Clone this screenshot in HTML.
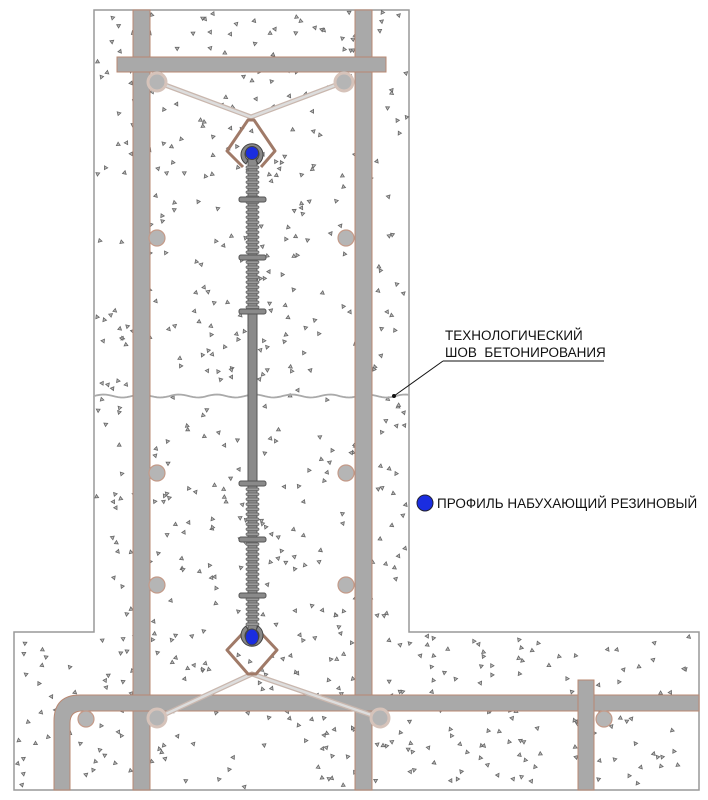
<!DOCTYPE html>
<html><head><meta charset="utf-8"><style>
html,body{margin:0;padding:0;background:#fff;width:708px;height:800px;overflow:hidden}
svg{display:block}
text{font-family:"Liberation Sans",sans-serif;fill:#111}
</style></head><body>
<svg id="s" width="708" height="800" viewBox="0 0 708 800">
<path d="M94 10 H409 V632 H699 V790 H14 V632 H94 Z" fill="#fff" stroke="#999" stroke-width="1.5"/>
<g id="dots" fill="#bbb" stroke="#666" stroke-width="0.8"></g>
<path id="wave" fill="none" stroke="#aaa" stroke-width="1.8"/>
<rect x="133" y="10" width="17" height="780" fill="#a9a9a9" stroke="#b98872" stroke-width="1"/>
<rect x="355" y="10" width="17" height="780" fill="#a9a9a9" stroke="#b98872" stroke-width="1"/>
<rect x="117" y="57" width="269" height="15" fill="#a9a9a9" stroke="#b98872" stroke-width="1"/>
<path d="M699 695 H80 Q54 695 54 721 V790 H70 V723 Q70 711 82 711 H699 Z" fill="#a9a9a9" stroke="#b98872" stroke-width="1"/>
<rect x="578" y="680" width="16" height="110" fill="#a9a9a9" stroke="#b98872" stroke-width="1"/>
<g fill="#b5b5b5" stroke="#c49a88" stroke-width="1.2">
<circle cx="157" cy="238" r="8"/><circle cx="346" cy="238" r="8"/>
<circle cx="157" cy="473" r="8"/><circle cx="346" cy="473" r="8"/>
<circle cx="157" cy="585" r="8"/><circle cx="346" cy="585" r="8"/>
<circle cx="86" cy="719" r="8"/><circle cx="604" cy="719" r="8"/>
</g>
<g fill="none" stroke="#c9b7ae" stroke-width="5" stroke-linecap="round">
<path d="M157 82 L251 117 L344 82"/>
<path d="M157 718 L252 674 L380 718"/>
</g>
<g fill="none" stroke="#ddd" stroke-width="2.5">
<path d="M157 82 L251 117 L344 82"/>
<path d="M157 718 L252 674 L380 718"/>
</g>
<g fill="#b5b5b5" stroke="#d6c3ba" stroke-width="3">
<circle cx="157" cy="82" r="9"/><circle cx="344" cy="82" r="9"/>
<circle cx="157" cy="718" r="9"/><circle cx="380" cy="718" r="9"/>
</g>
<g fill="none" stroke="#a07a68" stroke-width="3" stroke-linejoin="round">
<path d="M243 167 L227 151 L248 120 L254 120 L275 151 L261 167"/>
<path d="M243 633 L227 650 L248 674 L256 674 L277 650 L261 633"/>
</g>
<rect x="248" y="158" width="9" height="486" fill="#8a8a8a" stroke="#555" stroke-width="1"/>
<g id="ribs" fill="#9a9a9a" stroke="#666" stroke-width="0.7"></g>
<g fill="#8a8a8a" stroke="#555" stroke-width="1">
<rect x="239" y="197" width="27" height="5" rx="2"/>
<rect x="239" y="255" width="27" height="5" rx="2"/>
<rect x="239" y="309" width="27" height="5" rx="2"/>
<rect x="239" y="481" width="27" height="5" rx="2"/>
<rect x="239" y="537" width="27" height="5" rx="2"/>
<rect x="239" y="593" width="27" height="5" rx="2"/>
</g>
<g stroke="#444" stroke-width="1">
<path d="M246 164 A11 11 0 1 1 258 164 L256 160 A7 7 0 1 0 248 160 Z" fill="#888"/>
<circle cx="252" cy="153" r="6.5" fill="#1a2de0"/>
<path d="M246 626 A11 11 0 1 0 258 626 L256 630 A7 7 0 1 1 248 630 Z" fill="#888"/>
<ellipse cx="252" cy="637" rx="6.5" ry="8" fill="#1a2de0"/>
</g>
<line x1="394" y1="396" x2="443" y2="361" stroke="#111" stroke-width="1"/>
<line x1="443" y1="361" x2="604" y2="361" stroke="#111" stroke-width="1"/>
<circle cx="394" cy="396" r="2" fill="#111"/>
<text x="445" y="340" font-size="13.5">ТЕХНОЛОГИЧЕСКИЙ</text>
<text x="445" y="357" font-size="13.5" xml:space="preserve">ШОВ  БЕТОНИРОВАНИЯ</text>
<circle cx="425" cy="503" r="8" fill="#1a2de0" stroke="#223" stroke-width="1"/>
<text x="437" y="508" font-size="13.5">ПРОФИЛЬ НАБУХАЮЩИЙ РЕЗИНОВЫЙ</text>
</svg>
<script>
var NS="http://www.w3.org/2000/svg";
var seed=7;function r(){seed=(seed*16807)%2147483647;return seed/2147483647;}
var g=document.getElementById("dots");
function inside(x,y){return (x>96&&x<407&&y>12&&y<788)||(x>16&&x<697&&y>634&&y<788);}
for(var i=0;i<1400;i++){var x=14+r()*685,y=10+r()*780;if(!inside(x,y))continue;
var a=r()*6.28,s=2.2;var p=document.createElementNS(NS,"path");var d="M";
for(var k=0;k<3;k++){var ang=a+k*2.094;d+=(x+s*Math.cos(ang)).toFixed(1)+" "+(y+s*Math.sin(ang)).toFixed(1)+(k<2?" L":" Z");}
p.setAttribute("d",d);g.appendChild(p);}
var w="M94 396";for(var x=94;x<=409;x+=3){w+=" L"+x+" "+(396+1.5*Math.sin(x/6)).toFixed(1);}
document.getElementById("wave").setAttribute("d",w);
var rb=document.getElementById("ribs");
function ribs(a,b){for(var y=a;y<b;y+=5){var e=document.createElementNS(NS,"rect");e.setAttribute("x",246);e.setAttribute("y",y);e.setAttribute("width",13);e.setAttribute("height",2.5);e.setAttribute("rx",1.2);rb.appendChild(e);}}
ribs(166,309);ribs(488,628);
</script>
</body></html>
